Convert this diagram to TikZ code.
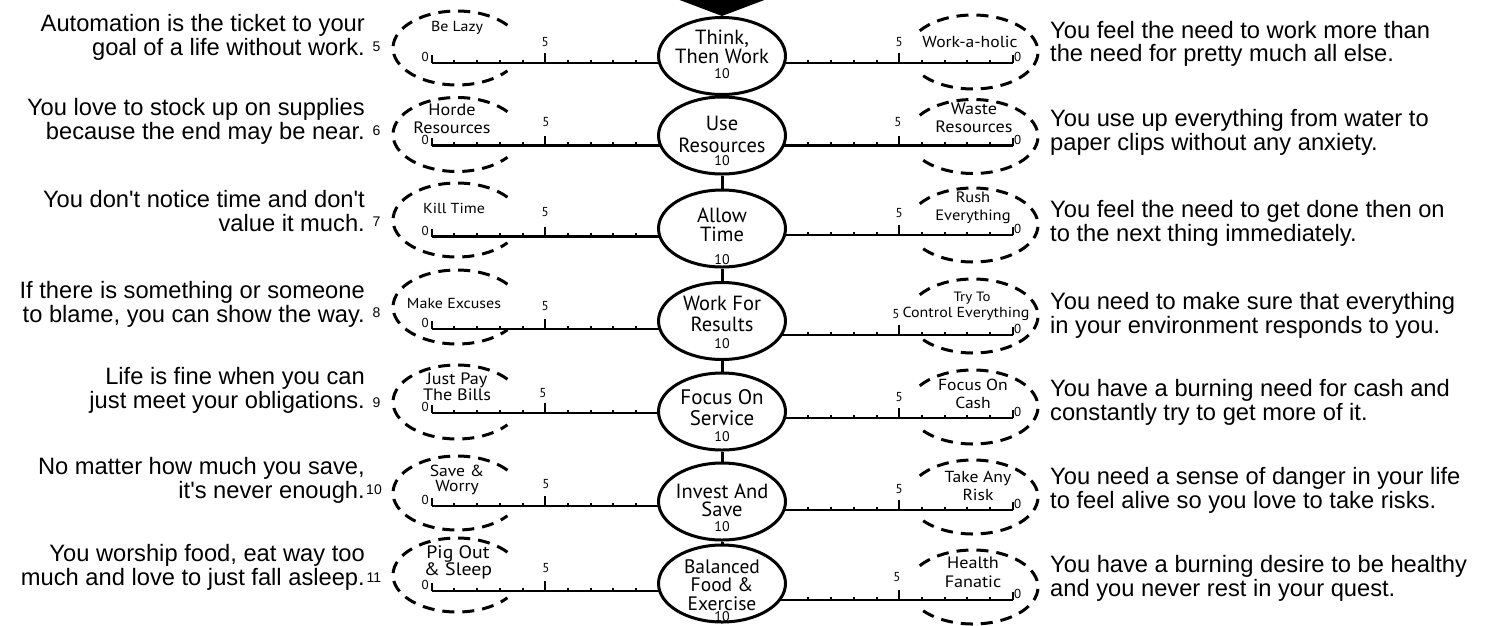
\documentclass[tikz,border=0pt]{standalone}
\usepackage{fontspec}
\setmainfont{Liberation Sans}
\newfontfamily\myr[FakeStretch=1.1]{PT Sans}
\newfontfamily\myrm{PT Sans}
\usetikzlibrary{shapes.geometric,backgrounds}
\tikzset{
  mainell/.style={ellipse, draw, line width=3pt, minimum width=127pt, minimum height=77pt, inner sep=0pt, fill=white},
  mtxt/.style 2 args={font=\myrm\fontsize{#1}{#2}\selectfont, align=center, inner sep=0pt},
  lab/.style 2 args={font=\myr\fontsize{#1}{#2}\selectfont, align=center, inner sep=0pt},
  ticklab/.style={font=\myrm\fontsize{13}{13}\selectfont, inner sep=0pt},
  tenlab/.style={font=\myrm\fontsize{14}{14}\selectfont, inner sep=0pt},
  ldesc/.style={font=\fontsize{23.7}{23.3}\selectfont, align=right, inner sep=0pt, anchor=base east},
  rdesc/.style={font=\fontsize{23.7}{23.3}\selectfont, align=left, inner sep=0pt, anchor=base west},
  numlab/.style={font=\fontsize{14}{14}\selectfont, inner sep=0pt},
  rulerline/.style={line width=2.5pt},
  tickline/.style={line width=2pt},
  dashell/.style={line width=3pt, dash pattern=on 12pt off 8pt},
  conn/.style={line width=3pt},
}
\newcommand\lruler[3]{%
  \coordinate (L#1) at (431.7,#2);
  \begin{pgfonlayer}{background}
  \draw[rulerline] (L#1) -- (L#1 -| #3.center);
  \end{pgfonlayer}
  \draw[tickline] (L#1) -- ++(0,-8);
  \draw[tickline] ([xshift=113.5pt]L#1) -- ++(0,-10);
  \foreach \k in {1,2,3,4,6,7,8,9}{\draw[tickline] ([xshift=\k*22.7pt]L#1) -- ++(0,-3.5);}
  \node[ticklab] (L#1z) at ([shift={(-6.5pt,6pt)}]L#1) {0};
}
\newcommand\rruler[3]{%
  \coordinate (R#1) at (1012.7,#2);
  \begin{pgfonlayer}{background}
  \draw[rulerline] (R#1) -- (R#1 -| #3.center);
  \end{pgfonlayer}
  \draw[tickline] (R#1) -- ++(0,-8);
  \draw[tickline] ([xshift=-113.5pt]R#1) -- ++(0,-10);
  \foreach \k in {1,2,3,4,6,7,8,9}{\draw[tickline] ([xshift=-\k*22.7pt]R#1) -- ++(0,-3.5);}
  \node[ticklab] (R#1z) at ([shift={(5pt,6pt)}]R#1) {0};
}
\newcommand\ldash[2]{%
  \coordinate (LD#1) at (457,#2);
  \draw[dashell] ([shift={(38:64pt and 37pt)}]LD#1) arc[start angle=38, end angle=322, x radius=64pt, y radius=37pt];
}
\newcommand\rdash[2]{%
  \coordinate (RD#1) at (973,#2);
  \draw[dashell] ([shift={(145:65pt and 37pt)}]RD#1) arc[start angle=145, end angle=-145, x radius=65pt, y radius=37pt];
}
\begin{document}
\begin{tikzpicture}[x=1pt,y=-1pt]
\useasboundingbox (0,0) rectangle (1487,625);
% main ellipses
\node[mainell] (E1) at (722,56) {};
\node[mainell] (E2) at (722,135.5) {};
\node[mainell] (E3) at (722,228.5) {};
\node[mainell] (E4) at (722,321) {};
\node[mainell] (E5) at (722,411.5) {};
\node[mainell] (E6) at (722,501.5) {};
\node[mainell] (E7) at (722,583.5) {};
\draw[conn] (E1.south) -- (E2.north);
\draw[conn] (E2.south) -- (E3.north);
\draw[conn] (E3.south) -- (E4.north);
\draw[conn] (E4.south) -- (E5.north);
\draw[conn] (E5.south) -- (E6.north);
\draw[conn] (E6.south) -- (E7.north);
\coordinate (AL) at (677,-1);
\coordinate (AR) at (767,-1);
\fill (AL) -- (AR) -- (E1.north) -- cycle;
% ellipse texts
\node[mtxt={20.5}{16.7}] (T1) at (722,47) {Think,\\Then Work};
\node[mtxt={20.5}{21.7}] (T2) at (722,134.7) {Use\\Resources};
\node[mtxt={20.5}{19}] (T3) at (722,225) {Allow\\Time};
\node[mtxt={20.5}{21}] (T4) at (722,314) {Work For\\Results};
\node[mtxt={21}{21}] (T5) at (722,408) {Focus On\\Service};
\node[mtxt={20.5}{17.7}] (T6) at (722,500) {Invest And\\Save};
\node[mtxt={19.5}{18.5}] (T7) at (722,585) {Balanced\\Food \&\\Exercise};
\node[tenlab] (X1) at (722,74) {10};
\node[tenlab] (X2) at (722,161) {10};
\node[tenlab] (X3) at (722,260) {10};
\node[tenlab] (X4) at (722,344) {10};
\node[tenlab] (X5) at (722,437) {10};
\node[tenlab] (X6) at (722,527) {10};
\node[tenlab] (X7) at (722,617) {10};
% rulers
\lruler{1}{63}{E1} \rruler{1}{63}{E1}
\lruler{2}{145.7}{E2} \rruler{2}{145.7}{E2}
\lruler{3}{236.7}{E3} \rruler{3}{235}{E3}
\lruler{4}{329}{E4} \rruler{4}{335}{E4}
\lruler{5}{413}{E5} \rruler{5}{418}{E5}
\lruler{6}{506}{E6} \rruler{6}{510}{E6}
\lruler{7}{591}{E7} \rruler{7}{600}{E7}
% five labels
\node[ticklab] (F1l) at (545.2,42) {5};   \node[ticklab] (F1r) at (899.2,42) {5};
\node[ticklab] (F2l) at (546,122) {5};    \node[ticklab] (F2r) at (898,122) {5};
\node[ticklab] (F3l) at (545.2,212) {5};  \node[ticklab] (F3r) at (899.2,213) {5};
\node[ticklab] (F4l) at (545.2,306) {5};  \node[ticklab] (F4r) at (896,314) {5};
\node[ticklab] (F5l) at (543,393) {5};    \node[ticklab] (F5r) at (899.2,397) {5};
\node[ticklab] (F6l) at (546,484) {5};    \node[ticklab] (F6r) at (899.2,489) {5};
\node[ticklab] (F7l) at (546,568) {5};    \node[ticklab] (F7r) at (897,577) {5};
% dashed ellipses
\ldash{1}{48}    \rdash{1}{52}
\ldash{2}{134.5} \rdash{2}{136.5}
\ldash{3}{220}   \rdash{3}{225}
\ldash{4}{307}   \rdash{4}{316}
\ldash{5}{402}   \rdash{5}{407}
\ldash{6}{493}   \rdash{6}{497}
\ldash{7}{575}   \rdash{7}{587}
% extreme labels
\node[lab={14.5}{16}] (B1l) at (457,28) {Be Lazy};
\node[lab={16}{16}] (B1r) at (970,42) {Work-a-holic};
\node[lab={16.5}{17.7}] (B2l) at (452,119) {Horde\\Resources};
\node[lab={16.5}{17.7}] (B2r) at (974,117.5) {Waste\\Resources};
\node[lab={14.5}{16}] (B3l) at (454,208) {Kill Time};
\node[lab={15}{17.7}] (B3r) at (973,207.5) {Rush\\Everything};
\node[lab={14.5}{16}] (B4l) at (454,304) {Make Excuses};
\node[lab={13.5}{16}] (B4a) at (972,298) {Try To};
\node[lab={14.5}{16}] (B4r) at (966,314) {Control Everything};
\node[lab={16.5}{16}] (B5l) at (457,387) {Just Pay\\The Bills};
\node[lab={16}{18}] (B5r) at (973,394) {Focus On\\Cash};
\node[lab={16}{15}] (B6l) at (457,480) {Save \&\\Worry};
\node[lab={16}{18}] (B6r) at (978,486) {Take Any\\Risk};
\node[lab={18}{17.7}] (B7l) at (458,562.5) {Pig Out\\\& Sleep};
\node[lab={16.5}{18.5}] (B7r) at (973,572.5) {Health\\Fanatic};
% descriptions
\node[ldesc] (D1l) at (365,55) {Automation is the ticket to your\\goal of a life without work.};
\node[numlab] (N1) at (376.5,47) {5};
\node[rdesc] (D1r) at (1050,61.7) {You feel the need to work more than\\the need for pretty much all else.};
\node[ldesc] (D2l) at (365,139) {You love to stock up on supplies\\because the end may be near.};
\node[numlab] (N2) at (376.5,131) {6};
\node[rdesc] (D2r) at (1050,150) {You use up everything from water to\\paper clips without any anxiety.};
\node[ldesc] (D3l) at (365,231) {You don\textquotesingle t notice time and don\textquotesingle t\\value it much.};
\node[numlab] (N3) at (376.5,222) {7};
\node[rdesc] (D3r) at (1050,241) {You feel the need to get done then on\\to the next thing immediately.};
\node[ldesc] (D4l) at (365,322) {If there is something or someone\\to blame, you can show the way.};
\node[numlab] (N4) at (376.5,313) {8};
\node[rdesc] (D4r) at (1050,333) {You need to make sure that everything\\in your environment responds to you.};
\node[ldesc] (D5l) at (365,408) {Life is fine when you can\\just meet your obligations.};
\node[numlab] (N5) at (376.5,403) {9};
\node[rdesc] (D5r) at (1050,420) {You have a burning need for cash and\\constantly try to get more of it.};
\node[ldesc] (D6l) at (365,498) {No matter how much you save,\\it\textquotesingle s never enough.};
\node[numlab] (N6) at (374,490) {10};
\node[rdesc] (D6r) at (1050,508) {You need a sense of danger in your life\\to feel alive so you love to take risks.};
\node[ldesc] (D7l) at (365,585) {You worship food, eat way too\\much and love to just fall asleep.};
\node[numlab] (N7) at (374,578) {11};
\node[rdesc] (D7r) at (1050,596) {You have a burning desire to be healthy\\and you never rest in your quest.};
\end{tikzpicture}
\end{document}
